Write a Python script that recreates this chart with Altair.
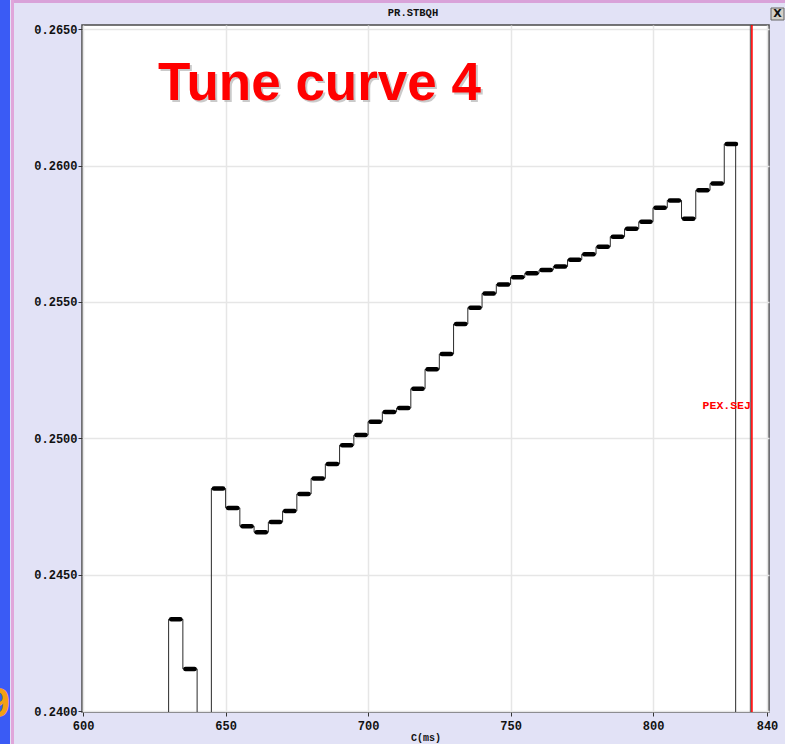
import altair as alt
import pandas as pd

# Step start times (ms) and held parameter values of PR.STBQH
step_ms = [620, 630, 635, 640, 645, 650, 655, 660, 665, 670, 675, 680, 685,
           690, 695, 700, 705, 710, 715, 720, 725, 730, 735, 740, 745, 750,
           755, 760, 765, 770, 775, 780, 785, 790, 795, 800, 805, 810, 815,
           820, 825, 829]
step_val = [0.2385, 0.24337, 0.24155, 0.2385, 0.24816, 0.24745, 0.24678,
            0.24656, 0.24693, 0.24734, 0.24796, 0.24853, 0.24906, 0.24975,
            0.25012, 0.25061, 0.25097, 0.25111, 0.25182, 0.25253, 0.25309,
            0.25419, 0.25479, 0.25531, 0.25564, 0.25590, 0.25605, 0.25617,
            0.25630, 0.25655, 0.25675, 0.25702, 0.25739, 0.25768, 0.25794,
            0.25845, 0.25872, 0.25805, 0.25909, 0.25934, 0.26079, 0.2385]

x_ticks = [600, 650, 700, 750, 800, 840]
y_ticks = [0.2400, 0.2450, 0.2500, 0.2550, 0.2600, 0.2650]

# Event marker
marker_name = ["PEX.SEJ"]
marker_ms = [834.7]
marker_edge_ms = [834.15]
marker_label_val = [0.25119]

panel_title = "PR.STBQH"
headline = "Tune curve 4"

steps = pd.DataFrame({"t": step_ms, "v": step_val})
marker = pd.DataFrame({"name": marker_name, "t": marker_ms,
                       "edge": marker_edge_ms, "v": marker_label_val})

W, H = 687, 687
FONT = "Liberation Mono"

x_scale = alt.Scale(domain=[599.6, 840.7], nice=False, zero=False)
y_scale = alt.Scale(domain=[0.23997, 0.26515], nice=False, zero=False)

x_axis = alt.Axis(values=x_ticks, title="C(ms)", format="d", grid=True,
                  gridColor="#e6e6e6", gridWidth=1.5, domain=False,
                  tickColor="#333333", tickSize=4, labelPadding=4,
                  labelFont=FONT, labelFontWeight="bold", labelFontSize=12,
                  labelColor="#111111", titleFont=FONT, titleFontSize=10,
                  titleFontWeight="bold", titleColor="#111111", titlePadding=1)
y_axis = alt.Axis(values=y_ticks, title=None, format=".4f", grid=True,
                  gridColor="#e6e6e6", gridWidth=1.5, domain=False,
                  tickColor="#333333", tickSize=4, labelPadding=1,
                  labelFont=FONT, labelFontWeight="bold", labelFontSize=12,
                  labelColor="#111111")

X = lambda f: alt.X(f, type="quantitative", scale=x_scale, axis=x_axis)
Y = lambda f: alt.Y(f, type="quantitative", scale=y_scale, axis=y_axis)

# thin connectors of the held values
connector = alt.Chart(steps).mark_line(
    interpolate="step-after", color="#2a2a2a", strokeWidth=1, clip=True
).encode(x=X("t"), y=Y("v"))

# thick plateaus for each held value
plateau = alt.Chart(steps).transform_filter(
    "datum.v >= 0.24"
).transform_calculate(
    a="datum.t + 0.9", b="datum.t + 4.1"
).mark_rule(
    color="black", strokeWidth=4.5, strokeCap="round", clip=True
).encode(x=X("a"), x2="b:Q", y=Y("v"))

marker_edge = alt.Chart(marker).mark_rule(
    color="#555555", strokeWidth=1, clip=True
).encode(x=X("edge"))
marker_line = alt.Chart(marker).mark_rule(
    color="#ff0000", strokeWidth=1.6, clip=True
).encode(x=X("t"))
marker_text = alt.Chart(marker).mark_text(
    align="right", baseline="middle", dx=-1, color="#ff0000",
    font=FONT, fontWeight="bold", fontSize=11.5
).encode(x=X("t"), y=Y("v"), text="name:N")

one = pd.DataFrame({"k": [0]})

# window chrome around the plot
blue_strip = alt.Chart(one).mark_rect(color="#3a5bf5").encode(
    x=alt.value(-82), x2=alt.value(-72), y=alt.value(-25), y2=alt.value(H + 32))
pink_strip = alt.Chart(one).mark_rect(color="#e0a6da").encode(
    x=alt.value(-71), x2=alt.value(-68), y=alt.value(-25), y2=alt.value(H + 32))
top_band = alt.Chart(one).mark_rect(color="#d9a2d9").encode(
    x=alt.value(-68), x2=alt.value(W + 16), y=alt.value(-25), y2=alt.value(-22))

title_text = alt.Chart(pd.DataFrame({"s": [panel_title]})).mark_text(
    font=FONT, fontWeight="bold", fontSize=10.5, color="#111111",
    align="center", baseline="middle"
).encode(x=alt.value(331), y=alt.value(-12), text="s:N")

close_box = alt.Chart(one).mark_rect(
    fill="#d4d0c8", stroke="#666666", strokeWidth=1
).encode(x=alt.value(689), x2=alt.value(702), y=alt.value(-17), y2=alt.value(-5))
close_x = alt.Chart(pd.DataFrame({"s": ["X"]})).mark_text(
    font="DejaVu Sans", fontWeight="bold", fontSize=11, color="#111111",
    align="center", baseline="middle"
).encode(x=alt.value(695.5), y=alt.value(-11), text="s:N")

head_shadow = alt.Chart(pd.DataFrame({"s": [headline]})).mark_text(
    font="Liberation Sans", fontWeight="bold", fontSize=53, color="#b4b4b4",
    align="left", baseline="alphabetic", opacity=0.7
).encode(x=alt.value(78), y=alt.value(77), text="s:N")
head = alt.Chart(pd.DataFrame({"s": [headline]})).mark_text(
    font="Liberation Sans", fontWeight="bold", fontSize=53, color="#ff0000",
    align="left", baseline="alphabetic"
).encode(x=alt.value(76), y=alt.value(75), text="s:N")

slide_digit = alt.Chart(pd.DataFrame({"s": ["9"]})).mark_text(
    font="Liberation Sans", fontWeight="bold", fontSize=42, color="#f2a014",
    align="right", baseline="alphabetic"
).encode(x=alt.value(-72), y=alt.value(692), text="s:N")

chart = alt.layer(
    connector, plateau, marker_edge, marker_line, marker_text,
    blue_strip, pink_strip, top_band, title_text, close_box, close_x,
    head_shadow, head, slide_digit
).properties(
    width=W, height=H,
    autosize=alt.AutoSizeParams(type="none"),
    padding={"left": 82, "top": 25, "right": 16, "bottom": 32},
    background="#e2e2f6",
).configure_view(
    fill="white", stroke="#4a4a4a", strokeWidth=1.5
)

chart.save("out.html", embed_options={"renderer": "svg", "actions": False})
